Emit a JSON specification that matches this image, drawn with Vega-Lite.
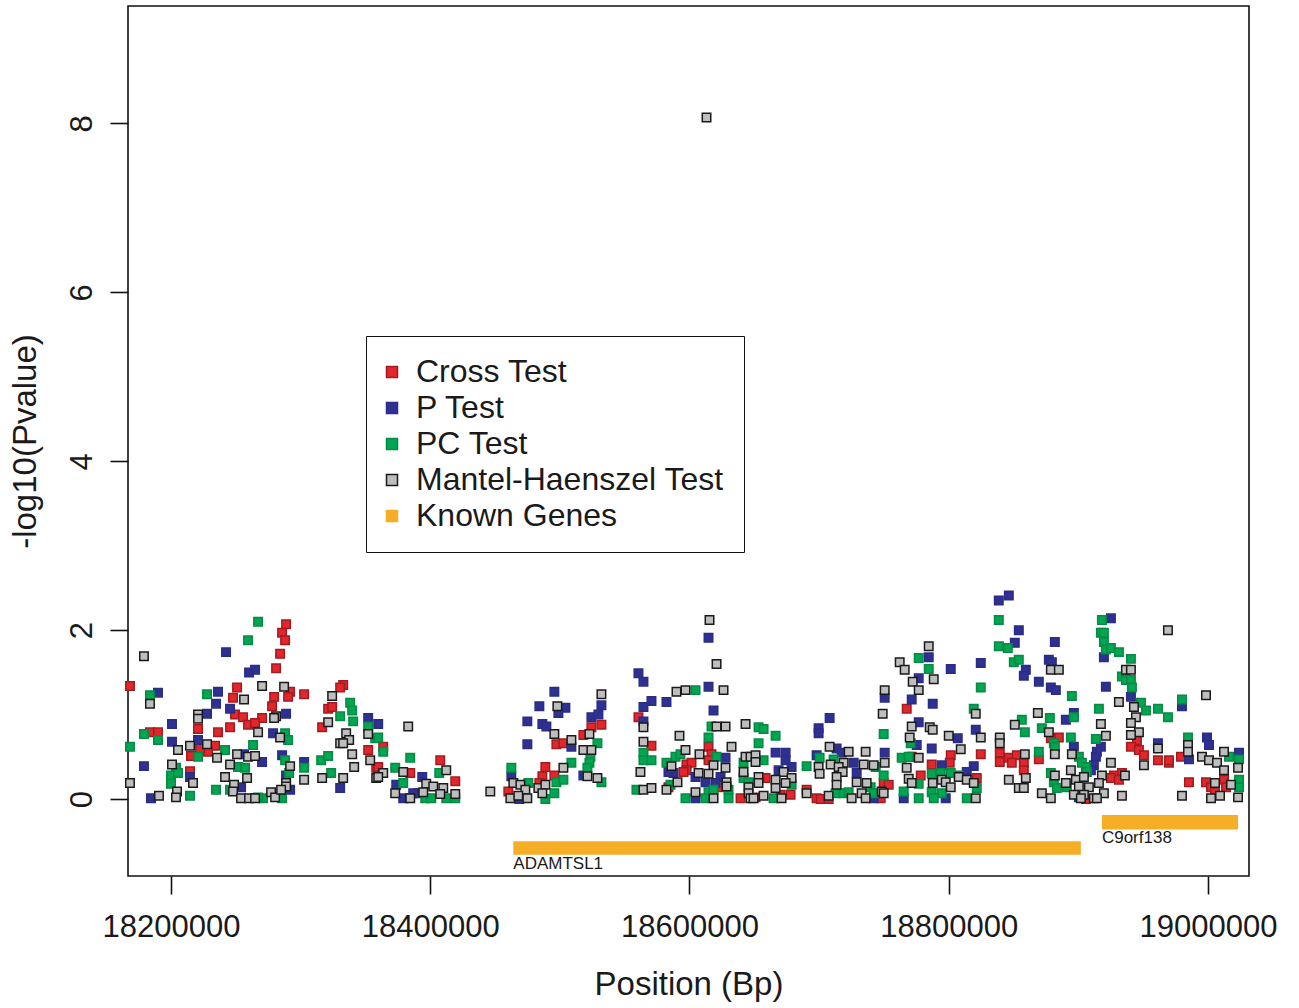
{
"$schema":"https://vega.github.io/schema/vega-lite/v6.json",
"width":1121,"height":870,
"autosize":{"type":"none"},
"padding":{"left":128,"top":6,"right":50,"bottom":132},
"background":"white",
"config":{"view":{"stroke":"#111111","strokeWidth":1.6},"font":"Liberation Sans",
"axis":{"labelFont":"Liberation Sans","titleFont":"Liberation Sans","labelColor":"#1a1a1a","titleColor":"#1a1a1a","titleFontWeight":"normal","tickColor":"#111111","tickWidth":1.6,"tickSize":18,"domain":false,"grid":false,"labelFlush":false,"labelOverlap":false}},
"datasets":{
"genes":[
{"gene":"ADAMTSL1","start":18464090,"end":18901930,"lo":-0.66,"hi":-0.50,"test":"Known Genes"},
{"gene":"C9orf138","start":18918150,"end":19023170,"lo":-0.36,"hi":-0.19,"test":"Known Genes"}],
"snps":[
{"pos":18168340,"logp":1.34,"test":"Cross Test"},{"pos":18250970,"logp":1.32,"test":"Cross Test"},{"pos":18247880,"logp":1.20,"test":"Cross Test"},{"pos":18249420,"logp":1.00,"test":"Cross Test"},{"pos":18255600,"logp":0.97,"test":"Cross Test"},{"pos":18259460,"logp":0.88,"test":"Cross Test"},{"pos":18220850,"logp":0.83,"test":"Cross Test"},{"pos":18236290,"logp":0.79,"test":"Cross Test"},{"pos":18245560,"logp":0.85,"test":"Cross Test"},{"pos":18183780,"logp":0.79,"test":"Cross Test"},{"pos":18189960,"logp":0.79,"test":"Cross Test"},{"pos":18233980,"logp":0.63,"test":"Cross Test"},{"pos":18228570,"logp":0.56,"test":"Cross Test"},{"pos":18222390,"logp":0.60,"test":"Cross Test"},{"pos":18215440,"logp":0.51,"test":"Cross Test"},{"pos":18214670,"logp":0.33,"test":"Cross Test"},
{"pos":18288800,"logp":2.07,"test":"Cross Test"},{"pos":18285710,"logp":1.97,"test":"Cross Test"},{"pos":18288030,"logp":1.88,"test":"Cross Test"},{"pos":18284170,"logp":1.72,"test":"Cross Test"},{"pos":18281080,"logp":1.55,"test":"Cross Test"},{"pos":18291890,"logp":1.27,"test":"Cross Test"},{"pos":18290350,"logp":1.21,"test":"Cross Test"},{"pos":18279540,"logp":1.21,"test":"Cross Test"},{"pos":18302700,"logp":1.24,"test":"Cross Test"},{"pos":18332820,"logp":1.35,"test":"Cross Test"},{"pos":18330500,"logp":1.32,"test":"Cross Test"},{"pos":18277990,"logp":1.10,"test":"Cross Test"},{"pos":18321240,"logp":1.07,"test":"Cross Test"},{"pos":18324320,"logp":1.09,"test":"Cross Test"},{"pos":18270270,"logp":0.96,"test":"Cross Test"},{"pos":18264860,"logp":0.90,"test":"Cross Test"},{"pos":18316600,"logp":0.85,"test":"Cross Test"},{"pos":18352120,"logp":0.58,"test":"Cross Test"},{"pos":18358300,"logp":0.37,"test":"Cross Test"},
{"pos":18363710,"logp":0.62,"test":"Cross Test"},{"pos":18407720,"logp":0.46,"test":"Cross Test"},{"pos":18359850,"logp":0.38,"test":"Cross Test"},{"pos":18384560,"logp":0.31,"test":"Cross Test"},{"pos":18419300,"logp":0.21,"test":"Cross Test"},
{"pos":18524320,"logp":0.85,"test":"Cross Test"},{"pos":18532050,"logp":0.88,"test":"Cross Test"},{"pos":18518150,"logp":0.76,"test":"Cross Test"},{"pos":18497300,"logp":0.65,"test":"Cross Test"},{"pos":18502700,"logp":0.66,"test":"Cross Test"},{"pos":18488800,"logp":0.38,"test":"Cross Test"},{"pos":18486490,"logp":0.27,"test":"Cross Test"},{"pos":18495750,"logp":0.28,"test":"Cross Test"},{"pos":18484170,"logp":0.19,"test":"Cross Test"},{"pos":18460230,"logp":0.09,"test":"Cross Test"},
{"pos":18560620,"logp":0.97,"test":"Cross Test"},{"pos":18570660,"logp":0.63,"test":"Cross Test"},{"pos":18614670,"logp":0.62,"test":"Cross Test"},{"pos":18616990,"logp":0.53,"test":"Cross Test"},{"pos":18597680,"logp":0.41,"test":"Cross Test"},{"pos":18601540,"logp":0.43,"test":"Cross Test"},{"pos":18614670,"logp":0.46,"test":"Cross Test"},{"pos":18597680,"logp":0.34,"test":"Cross Test"},{"pos":18595370,"logp":0.32,"test":"Cross Test"},{"pos":18583780,"logp":0.14,"test":"Cross Test"},{"pos":18622390,"logp":0.14,"test":"Cross Test"},{"pos":18639380,"logp":0.01,"test":"Cross Test"},
{"pos":18658690,"logp":0.25,"test":"Cross Test"},{"pos":18690350,"logp":0.11,"test":"Cross Test"},{"pos":18698070,"logp":0.01,"test":"Cross Test"},{"pos":18701160,"logp":0.0,"test":"Cross Test"},{"pos":18670270,"logp":0.05,"test":"Cross Test"},{"pos":18677990,"logp":0.05,"test":"Cross Test"},{"pos":18650960,"logp":0.02,"test":"Cross Test"},{"pos":18707340,"logp":0.0,"test":"Cross Test"},
{"pos":18767570,"logp":1.07,"test":"Cross Test"},{"pos":18824710,"logp":0.53,"test":"Cross Test"},{"pos":18839380,"logp":0.55,"test":"Cross Test"},{"pos":18839380,"logp":0.44,"test":"Cross Test"},{"pos":18801540,"logp":0.52,"test":"Cross Test"},{"pos":18771430,"logp":0.50,"test":"Cross Test"},{"pos":18786870,"logp":0.41,"test":"Cross Test"},{"pos":18800770,"logp":0.43,"test":"Cross Test"},{"pos":18778380,"logp":0.28,"test":"Cross Test"},{"pos":18821620,"logp":0.25,"test":"Cross Test"},{"pos":18749810,"logp":0.19,"test":"Cross Test"},{"pos":18753670,"logp":0.17,"test":"Cross Test"},{"pos":18747490,"logp":0.01,"test":"Cross Test"},
{"pos":18884940,"logp":0.73,"test":"Cross Test"},{"pos":18878760,"logp":0.72,"test":"Cross Test"},{"pos":18869500,"logp":0.47,"test":"Cross Test"},{"pos":18846330,"logp":0.49,"test":"Cross Test"},{"pos":18852510,"logp":0.52,"test":"Cross Test"},{"pos":18848650,"logp":0.43,"test":"Cross Test"},{"pos":18857910,"logp":0.43,"test":"Cross Test"},{"pos":18857910,"logp":0.34,"test":"Cross Test"},{"pos":18927410,"logp":0.28,"test":"Cross Test"},{"pos":18933590,"logp":0.31,"test":"Cross Test"},{"pos":18925100,"logp":0.25,"test":"Cross Test"},{"pos":18931270,"logp":0.23,"test":"Cross Test"},{"pos":18905790,"logp":0.0,"test":"Cross Test"},
{"pos":18945170,"logp":0.70,"test":"Cross Test"},{"pos":18940540,"logp":0.62,"test":"Cross Test"},{"pos":18946720,"logp":0.58,"test":"Cross Test"},{"pos":18950580,"logp":0.52,"test":"Cross Test"},{"pos":18979150,"logp":0.50,"test":"Cross Test"},{"pos":18961390,"logp":0.46,"test":"Cross Test"},{"pos":18969880,"logp":0.43,"test":"Cross Test"},{"pos":18969880,"logp":0.46,"test":"Cross Test"},{"pos":18985330,"logp":0.20,"test":"Cross Test"},{"pos":18998460,"logp":0.20,"test":"Cross Test"},{"pos":19002320,"logp":0.14,"test":"Cross Test"},{"pos":19012350,"logp":0.23,"test":"Cross Test"},{"pos":19013900,"logp":0.14,"test":"Cross Test"},{"pos":19005400,"logp":0.08,"test":"Cross Test"},

{"pos":18242470,"logp":1.74,"test":"P Test"},{"pos":18260230,"logp":1.50,"test":"P Test"},{"pos":18189960,"logp":1.26,"test":"P Test"},{"pos":18236290,"logp":1.27,"test":"P Test"},{"pos":18234750,"logp":1.13,"test":"P Test"},{"pos":18245560,"logp":1.07,"test":"P Test"},{"pos":18227800,"logp":1.01,"test":"P Test"},{"pos":18200770,"logp":0.89,"test":"P Test"},{"pos":18200770,"logp":0.68,"test":"P Test"},{"pos":18220850,"logp":0.70,"test":"P Test"},{"pos":18256370,"logp":0.53,"test":"P Test"},{"pos":18179150,"logp":0.39,"test":"P Test"},{"pos":18214670,"logp":0.26,"test":"P Test"},{"pos":18254050,"logp":0.14,"test":"P Test"},{"pos":18184560,"logp":0.01,"test":"P Test"},
{"pos":18264860,"logp":1.53,"test":"P Test"},{"pos":18288800,"logp":1.01,"test":"P Test"},{"pos":18352120,"logp":0.96,"test":"P Test"},{"pos":18278760,"logp":0.78,"test":"P Test"},{"pos":18270270,"logp":0.44,"test":"P Test"},{"pos":18285710,"logp":0.52,"test":"P Test"},{"pos":18302700,"logp":0.44,"test":"P Test"},{"pos":18288800,"logp":0.28,"test":"P Test"},{"pos":18330500,"logp":0.13,"test":"P Test"},{"pos":18291890,"logp":0.11,"test":"P Test"},
{"pos":18359850,"logp":0.89,"test":"P Test"},{"pos":18393820,"logp":0.26,"test":"P Test"},{"pos":18373750,"logp":0.17,"test":"P Test"},{"pos":18379150,"logp":0.01,"test":"P Test"},{"pos":18390730,"logp":0.07,"test":"P Test"},{"pos":18386870,"logp":0.07,"test":"P Test"},
{"pos":18495750,"logp":1.27,"test":"P Test"},{"pos":18484170,"logp":1.10,"test":"P Test"},{"pos":18504250,"logp":1.08,"test":"P Test"},{"pos":18498840,"logp":1.02,"test":"P Test"},{"pos":18532050,"logp":1.11,"test":"P Test"},{"pos":18524320,"logp":0.97,"test":"P Test"},{"pos":18529730,"logp":1.00,"test":"P Test"},{"pos":18474900,"logp":0.92,"test":"P Test"},{"pos":18486490,"logp":0.89,"test":"P Test"},{"pos":18489580,"logp":0.86,"test":"P Test"},{"pos":18508880,"logp":0.62,"test":"P Test"},{"pos":18474900,"logp":0.65,"test":"P Test"},{"pos":18462550,"logp":0.27,"test":"P Test"},{"pos":18518150,"logp":0.28,"test":"P Test"},{"pos":18468730,"logp":0.0,"test":"P Test"},
{"pos":18614670,"logp":1.91,"test":"P Test"},{"pos":18560620,"logp":1.49,"test":"P Test"},{"pos":18564480,"logp":1.39,"test":"P Test"},{"pos":18614670,"logp":1.33,"test":"P Test"},{"pos":18570660,"logp":1.16,"test":"P Test"},{"pos":18564480,"logp":1.09,"test":"P Test"},{"pos":18582240,"logp":1.15,"test":"P Test"},{"pos":18618530,"logp":1.05,"test":"P Test"},{"pos":18564480,"logp":0.92,"test":"P Test"},{"pos":18627800,"logp":0.49,"test":"P Test"},{"pos":18587640,"logp":0.31,"test":"P Test"},{"pos":18583780,"logp":0.32,"test":"P Test"},{"pos":18604630,"logp":0.26,"test":"P Test"},{"pos":18623940,"logp":0.26,"test":"P Test"},{"pos":18612350,"logp":0.20,"test":"P Test"},{"pos":18620080,"logp":0.19,"test":"P Test"},{"pos":18604630,"logp":0.01,"test":"P Test"},
{"pos":18708110,"logp":0.96,"test":"P Test"},{"pos":18699610,"logp":0.84,"test":"P Test"},{"pos":18699610,"logp":0.78,"test":"P Test"},{"pos":18713510,"logp":0.60,"test":"P Test"},{"pos":18717370,"logp":0.55,"test":"P Test"},{"pos":18666410,"logp":0.55,"test":"P Test"},{"pos":18674130,"logp":0.55,"test":"P Test"},{"pos":18674130,"logp":0.46,"test":"P Test"},{"pos":18698070,"logp":0.52,"test":"P Test"},{"pos":18726640,"logp":0.43,"test":"P Test"},{"pos":18728960,"logp":0.31,"test":"P Test"},{"pos":18678760,"logp":0.38,"test":"P Test"},{"pos":18668730,"logp":0.34,"test":"P Test"},{"pos":18742080,"logp":0.01,"test":"P Test"},
{"pos":18838610,"logp":2.35,"test":"P Test"},{"pos":18846330,"logp":2.41,"test":"P Test"},{"pos":18784560,"logp":1.68,"test":"P Test"},{"pos":18801540,"logp":1.54,"test":"P Test"},{"pos":18824710,"logp":1.61,"test":"P Test"},{"pos":18776830,"logp":1.43,"test":"P Test"},{"pos":18750580,"logp":1.20,"test":"P Test"},{"pos":18771430,"logp":1.18,"test":"P Test"},{"pos":18787640,"logp":1.13,"test":"P Test"},{"pos":18776830,"logp":0.91,"test":"P Test"},{"pos":18820850,"logp":0.82,"test":"P Test"},{"pos":18806950,"logp":0.72,"test":"P Test"},{"pos":18775290,"logp":0.64,"test":"P Test"},{"pos":18786870,"logp":0.60,"test":"P Test"},{"pos":18750580,"logp":0.55,"test":"P Test"},{"pos":18794590,"logp":0.40,"test":"P Test"},{"pos":18819300,"logp":0.39,"test":"P Test"},{"pos":18813900,"logp":0.32,"test":"P Test"},{"pos":18765250,"logp":0.01,"test":"P Test"},{"pos":18797680,"logp":0.01,"test":"P Test"},
{"pos":18925100,"logp":2.14,"test":"P Test"},{"pos":18854050,"logp":2.00,"test":"P Test"},{"pos":18881850,"logp":1.86,"test":"P Test"},{"pos":18850960,"logp":1.85,"test":"P Test"},{"pos":18919690,"logp":1.68,"test":"P Test"},{"pos":18877220,"logp":1.65,"test":"P Test"},{"pos":18879540,"logp":1.62,"test":"P Test"},{"pos":18859460,"logp":1.53,"test":"P Test"},{"pos":18857910,"logp":1.46,"test":"P Test"},{"pos":18869500,"logp":1.39,"test":"P Test"},{"pos":18878760,"logp":1.32,"test":"P Test"},{"pos":18882620,"logp":1.29,"test":"P Test"},{"pos":18921230,"logp":1.33,"test":"P Test"},{"pos":18896520,"logp":1.02,"test":"P Test"},{"pos":18890350,"logp":0.94,"test":"P Test"},{"pos":18917370,"logp":0.62,"test":"P Test"},{"pos":18914290,"logp":0.56,"test":"P Test"},{"pos":18913510,"logp":0.50,"test":"P Test"},{"pos":18896520,"logp":0.62,"test":"P Test"},{"pos":18911970,"logp":0.40,"test":"P Test"},{"pos":18909650,"logp":0.34,"test":"P Test"},{"pos":18900390,"logp":0.02,"test":"P Test"},
{"pos":18940540,"logp":1.21,"test":"P Test"},{"pos":18979920,"logp":1.10,"test":"P Test"},{"pos":18999230,"logp":0.73,"test":"P Test"},{"pos":19000770,"logp":0.64,"test":"P Test"},{"pos":18961390,"logp":0.66,"test":"P Test"},{"pos":18985330,"logp":0.47,"test":"P Test"},{"pos":19023940,"logp":0.55,"test":"P Test"},

{"pos":18259460,"logp":1.88,"test":"PC Test"},{"pos":18183780,"logp":1.23,"test":"PC Test"},{"pos":18227800,"logp":1.24,"test":"PC Test"},{"pos":18179150,"logp":0.77,"test":"PC Test"},{"pos":18189960,"logp":0.70,"test":"PC Test"},{"pos":18241700,"logp":0.58,"test":"PC Test"},{"pos":18220850,"logp":0.50,"test":"PC Test"},{"pos":18168340,"logp":0.62,"test":"PC Test"},{"pos":18203860,"logp":0.37,"test":"PC Test"},{"pos":18251740,"logp":0.38,"test":"PC Test"},{"pos":18257140,"logp":0.37,"test":"PC Test"},{"pos":18200000,"logp":0.28,"test":"PC Test"},{"pos":18205410,"logp":0.31,"test":"PC Test"},{"pos":18200000,"logp":0.18,"test":"PC Test"},{"pos":18234750,"logp":0.11,"test":"PC Test"},{"pos":18245560,"logp":0.11,"test":"PC Test"},{"pos":18214670,"logp":0.04,"test":"PC Test"},
{"pos":18267180,"logp":2.10,"test":"PC Test"},{"pos":18338220,"logp":1.14,"test":"PC Test"},{"pos":18339770,"logp":1.05,"test":"PC Test"},{"pos":18330500,"logp":0.98,"test":"PC Test"},{"pos":18340540,"logp":0.92,"test":"PC Test"},{"pos":18352120,"logp":0.86,"test":"PC Test"},{"pos":18288030,"logp":0.78,"test":"PC Test"},{"pos":18290350,"logp":0.70,"test":"PC Test"},{"pos":18357530,"logp":0.72,"test":"PC Test"},{"pos":18263320,"logp":0.64,"test":"PC Test"},{"pos":18288030,"logp":0.46,"test":"PC Test"},{"pos":18302700,"logp":0.37,"test":"PC Test"},{"pos":18315830,"logp":0.46,"test":"PC Test"},{"pos":18321240,"logp":0.51,"test":"PC Test"},{"pos":18291120,"logp":0.31,"test":"PC Test"},{"pos":18323550,"logp":0.31,"test":"PC Test"},{"pos":18271040,"logp":0.01,"test":"PC Test"},{"pos":18267180,"logp":0.02,"test":"PC Test"},{"pos":18285710,"logp":0.01,"test":"PC Test"},
{"pos":18359850,"logp":0.73,"test":"PC Test"},{"pos":18363710,"logp":0.56,"test":"PC Test"},{"pos":18384560,"logp":0.49,"test":"PC Test"},{"pos":18372970,"logp":0.37,"test":"PC Test"},{"pos":18406950,"logp":0.31,"test":"PC Test"},{"pos":18379150,"logp":0.19,"test":"PC Test"},{"pos":18396140,"logp":0.01,"test":"PC Test"},{"pos":18400770,"logp":0.01,"test":"PC Test"},{"pos":18412360,"logp":0.01,"test":"PC Test"},{"pos":18419300,"logp":0.01,"test":"PC Test"},
{"pos":18528960,"logp":0.66,"test":"PC Test"},{"pos":18523550,"logp":0.50,"test":"PC Test"},{"pos":18508880,"logp":0.43,"test":"PC Test"},{"pos":18522780,"logp":0.43,"test":"PC Test"},{"pos":18521240,"logp":0.37,"test":"PC Test"},{"pos":18462550,"logp":0.37,"test":"PC Test"},{"pos":18532050,"logp":0.20,"test":"PC Test"},{"pos":18497300,"logp":0.20,"test":"PC Test"},{"pos":18502700,"logp":0.23,"test":"PC Test"},{"pos":18475680,"logp":0.19,"test":"PC Test"},{"pos":18495750,"logp":0.07,"test":"PC Test"},{"pos":18488800,"logp":0.0,"test":"PC Test"},
{"pos":18604630,"logp":1.29,"test":"PC Test"},{"pos":18616990,"logp":0.86,"test":"PC Test"},{"pos":18614670,"logp":0.73,"test":"PC Test"},{"pos":18564480,"logp":0.55,"test":"PC Test"},{"pos":18564480,"logp":0.46,"test":"PC Test"},{"pos":18570660,"logp":0.46,"test":"PC Test"},{"pos":18589190,"logp":0.50,"test":"PC Test"},{"pos":18593050,"logp":0.53,"test":"PC Test"},{"pos":18620850,"logp":0.50,"test":"PC Test"},{"pos":18582240,"logp":0.43,"test":"PC Test"},{"pos":18641700,"logp":0.43,"test":"PC Test"},{"pos":18641700,"logp":0.25,"test":"PC Test"},{"pos":18645560,"logp":0.20,"test":"PC Test"},{"pos":18585330,"logp":0.17,"test":"PC Test"},{"pos":18559070,"logp":0.11,"test":"PC Test"},{"pos":18614670,"logp":0.08,"test":"PC Test"},{"pos":18618530,"logp":0.11,"test":"PC Test"},{"pos":18630120,"logp":0.11,"test":"PC Test"},{"pos":18596910,"logp":0.01,"test":"PC Test"},{"pos":18612350,"logp":0.01,"test":"PC Test"},{"pos":18630120,"logp":0.01,"test":"PC Test"},
{"pos":18653280,"logp":0.85,"test":"PC Test"},{"pos":18657140,"logp":0.83,"test":"PC Test"},{"pos":18666410,"logp":0.75,"test":"PC Test"},{"pos":18653280,"logp":0.66,"test":"PC Test"},{"pos":18657140,"logp":0.46,"test":"PC Test"},{"pos":18700390,"logp":0.49,"test":"PC Test"},{"pos":18711200,"logp":0.47,"test":"PC Test"},{"pos":18690350,"logp":0.39,"test":"PC Test"},{"pos":18743630,"logp":0.38,"test":"PC Test"},{"pos":18678760,"logp":0.17,"test":"PC Test"},{"pos":18739770,"logp":0.14,"test":"PC Test"},{"pos":18742080,"logp":0.07,"test":"PC Test"},{"pos":18712740,"logp":0.07,"test":"PC Test"},{"pos":18718920,"logp":0.07,"test":"PC Test"},{"pos":18722780,"logp":0.08,"test":"PC Test"},{"pos":18664860,"logp":0.01,"test":"PC Test"},
{"pos":18838610,"logp":2.12,"test":"PC Test"},{"pos":18838610,"logp":1.81,"test":"PC Test"},{"pos":18776830,"logp":1.67,"test":"PC Test"},{"pos":18784560,"logp":1.54,"test":"PC Test"},{"pos":18824710,"logp":1.32,"test":"PC Test"},{"pos":18819300,"logp":1.07,"test":"PC Test"},{"pos":18749810,"logp":0.77,"test":"PC Test"},{"pos":18770660,"logp":0.66,"test":"PC Test"},{"pos":18763710,"logp":0.49,"test":"PC Test"},{"pos":18769110,"logp":0.50,"test":"PC Test"},{"pos":18749810,"logp":0.28,"test":"PC Test"},{"pos":18786870,"logp":0.30,"test":"PC Test"},{"pos":18793820,"logp":0.31,"test":"PC Test"},{"pos":18801540,"logp":0.31,"test":"PC Test"},{"pos":18807720,"logp":0.28,"test":"PC Test"},{"pos":18765250,"logp":0.09,"test":"PC Test"},{"pos":18776830,"logp":0.18,"test":"PC Test"},{"pos":18786870,"logp":0.08,"test":"PC Test"},{"pos":18794590,"logp":0.07,"test":"PC Test"},{"pos":18776830,"logp":0.01,"test":"PC Test"},{"pos":18788420,"logp":0.01,"test":"PC Test"},{"pos":18813900,"logp":0.01,"test":"PC Test"},{"pos":18821620,"logp":0.13,"test":"PC Test"},
{"pos":18918150,"logp":2.12,"test":"PC Test"},{"pos":18917370,"logp":1.97,"test":"PC Test"},{"pos":18919690,"logp":1.97,"test":"PC Test"},{"pos":18845560,"logp":1.79,"test":"PC Test"},{"pos":18919690,"logp":1.86,"test":"PC Test"},{"pos":18921230,"logp":1.77,"test":"PC Test"},{"pos":18925100,"logp":1.79,"test":"PC Test"},{"pos":18931270,"logp":1.74,"test":"PC Test"},{"pos":18850190,"logp":1.62,"test":"PC Test"},{"pos":18854050,"logp":1.65,"test":"PC Test"},{"pos":18933590,"logp":1.45,"test":"PC Test"},{"pos":18936680,"logp":1.41,"test":"PC Test"},{"pos":18894980,"logp":1.22,"test":"PC Test"},{"pos":18915830,"logp":1.07,"test":"PC Test"},{"pos":18896520,"logp":0.97,"test":"PC Test"},{"pos":18877990,"logp":0.96,"test":"PC Test"},{"pos":18856370,"logp":0.94,"test":"PC Test"},{"pos":18858690,"logp":0.79,"test":"PC Test"},{"pos":18871810,"logp":0.84,"test":"PC Test"},{"pos":18894210,"logp":0.73,"test":"PC Test"},{"pos":18881080,"logp":0.66,"test":"PC Test"},{"pos":18881850,"logp":0.62,"test":"PC Test"},{"pos":18913510,"logp":0.71,"test":"PC Test"},{"pos":18869500,"logp":0.56,"test":"PC Test"},{"pos":18900390,"logp":0.50,"test":"PC Test"},{"pos":18902700,"logp":0.43,"test":"PC Test"},{"pos":18905790,"logp":0.38,"test":"PC Test"},{"pos":18906560,"logp":0.32,"test":"PC Test"},{"pos":18878760,"logp":0.31,"test":"PC Test"},{"pos":18881080,"logp":0.20,"test":"PC Test"},{"pos":18883400,"logp":0.13,"test":"PC Test"},{"pos":18891120,"logp":0.14,"test":"PC Test"},
{"pos":18940540,"logp":1.66,"test":"PC Test"},{"pos":18940540,"logp":1.41,"test":"PC Test"},{"pos":18941310,"logp":1.32,"test":"PC Test"},{"pos":18979920,"logp":1.18,"test":"PC Test"},{"pos":18948260,"logp":1.14,"test":"PC Test"},{"pos":18952120,"logp":1.05,"test":"PC Test"},{"pos":18961390,"logp":1.07,"test":"PC Test"},{"pos":18969110,"logp":0.97,"test":"PC Test"},{"pos":18984560,"logp":0.73,"test":"PC Test"},{"pos":19016220,"logp":0.50,"test":"PC Test"},{"pos":19023940,"logp":0.47,"test":"PC Test"},{"pos":19023940,"logp":0.23,"test":"PC Test"},{"pos":19023940,"logp":0.14,"test":"PC Test"},

{"pos":18613130,"logp":8.07,"test":"Mantel-Haenszel Test"},
{"pos":18179150,"logp":1.69,"test":"Mantel-Haenszel Test"},{"pos":18183780,"logp":1.13,"test":"Mantel-Haenszel Test"},{"pos":18256370,"logp":1.18,"test":"Mantel-Haenszel Test"},{"pos":18220850,"logp":1.00,"test":"Mantel-Haenszel Test"},{"pos":18220850,"logp":0.95,"test":"Mantel-Haenszel Test"},{"pos":18205410,"logp":0.58,"test":"Mantel-Haenszel Test"},{"pos":18214670,"logp":0.63,"test":"Mantel-Haenszel Test"},{"pos":18227800,"logp":0.65,"test":"Mantel-Haenszel Test"},{"pos":18235520,"logp":0.49,"test":"Mantel-Haenszel Test"},{"pos":18250970,"logp":0.53,"test":"Mantel-Haenszel Test"},{"pos":18259460,"logp":0.50,"test":"Mantel-Haenszel Test"},{"pos":18200770,"logp":0.41,"test":"Mantel-Haenszel Test"},{"pos":18245560,"logp":0.41,"test":"Mantel-Haenszel Test"},{"pos":18216990,"logp":0.19,"test":"Mantel-Haenszel Test"},{"pos":18168340,"logp":0.19,"test":"Mantel-Haenszel Test"},{"pos":18241700,"logp":0.26,"test":"Mantel-Haenszel Test"},{"pos":18248650,"logp":0.17,"test":"Mantel-Haenszel Test"},{"pos":18258690,"logp":0.25,"test":"Mantel-Haenszel Test"},{"pos":18247880,"logp":0.09,"test":"Mantel-Haenszel Test"},{"pos":18204630,"logp":0.09,"test":"Mantel-Haenszel Test"},{"pos":18203860,"logp":0.02,"test":"Mantel-Haenszel Test"},{"pos":18190730,"logp":0.04,"test":"Mantel-Haenszel Test"},{"pos":18254050,"logp":0.01,"test":"Mantel-Haenszel Test"},{"pos":18260230,"logp":0.01,"test":"Mantel-Haenszel Test"},
{"pos":18270270,"logp":1.34,"test":"Mantel-Haenszel Test"},{"pos":18287260,"logp":1.33,"test":"Mantel-Haenszel Test"},{"pos":18324320,"logp":1.22,"test":"Mantel-Haenszel Test"},{"pos":18281080,"logp":0.98,"test":"Mantel-Haenszel Test"},{"pos":18279540,"logp":0.96,"test":"Mantel-Haenszel Test"},{"pos":18321240,"logp":0.91,"test":"Mantel-Haenszel Test"},{"pos":18267180,"logp":0.79,"test":"Mantel-Haenszel Test"},{"pos":18284170,"logp":0.73,"test":"Mantel-Haenszel Test"},{"pos":18335140,"logp":0.78,"test":"Mantel-Haenszel Test"},{"pos":18337450,"logp":0.70,"test":"Mantel-Haenszel Test"},{"pos":18330500,"logp":0.66,"test":"Mantel-Haenszel Test"},{"pos":18332820,"logp":0.66,"test":"Mantel-Haenszel Test"},{"pos":18352120,"logp":0.77,"test":"Mantel-Haenszel Test"},{"pos":18339770,"logp":0.53,"test":"Mantel-Haenszel Test"},{"pos":18264860,"logp":0.51,"test":"Mantel-Haenszel Test"},{"pos":18353670,"logp":0.46,"test":"Mantel-Haenszel Test"},{"pos":18291890,"logp":0.39,"test":"Mantel-Haenszel Test"},{"pos":18341310,"logp":0.38,"test":"Mantel-Haenszel Test"},{"pos":18302700,"logp":0.23,"test":"Mantel-Haenszel Test"},{"pos":18316600,"logp":0.25,"test":"Mantel-Haenszel Test"},{"pos":18332820,"logp":0.25,"test":"Mantel-Haenszel Test"},{"pos":18358300,"logp":0.25,"test":"Mantel-Haenszel Test"},{"pos":18288800,"logp":0.19,"test":"Mantel-Haenszel Test"},{"pos":18288800,"logp":0.15,"test":"Mantel-Haenszel Test"},{"pos":18277220,"logp":0.08,"test":"Mantel-Haenszel Test"},{"pos":18280310,"logp":0.02,"test":"Mantel-Haenszel Test"},{"pos":18284940,"logp":0.11,"test":"Mantel-Haenszel Test"},{"pos":18264860,"logp":0.01,"test":"Mantel-Haenszel Test"},
{"pos":18383010,"logp":0.86,"test":"Mantel-Haenszel Test"},{"pos":18363710,"logp":0.31,"test":"Mantel-Haenszel Test"},{"pos":18379150,"logp":0.32,"test":"Mantel-Haenszel Test"},{"pos":18412360,"logp":0.34,"test":"Mantel-Haenszel Test"},{"pos":18372970,"logp":0.07,"test":"Mantel-Haenszel Test"},{"pos":18396910,"logp":0.18,"test":"Mantel-Haenszel Test"},{"pos":18402320,"logp":0.15,"test":"Mantel-Haenszel Test"},{"pos":18410040,"logp":0.13,"test":"Mantel-Haenszel Test"},{"pos":18394590,"logp":0.08,"test":"Mantel-Haenszel Test"},{"pos":18407720,"logp":0.06,"test":"Mantel-Haenszel Test"},{"pos":18419300,"logp":0.06,"test":"Mantel-Haenszel Test"},{"pos":18384560,"logp":0.01,"test":"Mantel-Haenszel Test"},{"pos":18446330,"logp":0.09,"test":"Mantel-Haenszel Test"},{"pos":18359850,"logp":0.26,"test":"Mantel-Haenszel Test"},
{"pos":18498070,"logp":1.10,"test":"Mantel-Haenszel Test"},{"pos":18532050,"logp":1.24,"test":"Mantel-Haenszel Test"},{"pos":18495750,"logp":0.77,"test":"Mantel-Haenszel Test"},{"pos":18522780,"logp":0.77,"test":"Mantel-Haenszel Test"},{"pos":18508880,"logp":0.70,"test":"Mantel-Haenszel Test"},{"pos":18518150,"logp":0.58,"test":"Mantel-Haenszel Test"},{"pos":18524320,"logp":0.58,"test":"Mantel-Haenszel Test"},{"pos":18502700,"logp":0.37,"test":"Mantel-Haenszel Test"},{"pos":18521240,"logp":0.27,"test":"Mantel-Haenszel Test"},{"pos":18528960,"logp":0.25,"test":"Mantel-Haenszel Test"},{"pos":18464090,"logp":0.19,"test":"Mantel-Haenszel Test"},{"pos":18469500,"logp":0.17,"test":"Mantel-Haenszel Test"},{"pos":18473360,"logp":0.11,"test":"Mantel-Haenszel Test"},{"pos":18483400,"logp":0.13,"test":"Mantel-Haenszel Test"},{"pos":18488800,"logp":0.17,"test":"Mantel-Haenszel Test"},{"pos":18486490,"logp":0.07,"test":"Mantel-Haenszel Test"},{"pos":18461780,"logp":0.01,"test":"Mantel-Haenszel Test"},{"pos":18467950,"logp":0.04,"test":"Mantel-Haenszel Test"},{"pos":18474900,"logp":0.01,"test":"Mantel-Haenszel Test"},
{"pos":18615440,"logp":2.12,"test":"Mantel-Haenszel Test"},{"pos":18620850,"logp":1.60,"test":"Mantel-Haenszel Test"},{"pos":18589960,"logp":1.27,"test":"Mantel-Haenszel Test"},{"pos":18596910,"logp":1.29,"test":"Mantel-Haenszel Test"},{"pos":18626250,"logp":1.29,"test":"Mantel-Haenszel Test"},{"pos":18620850,"logp":0.86,"test":"Mantel-Haenszel Test"},{"pos":18627800,"logp":0.86,"test":"Mantel-Haenszel Test"},{"pos":18643240,"logp":0.89,"test":"Mantel-Haenszel Test"},{"pos":18564480,"logp":0.85,"test":"Mantel-Haenszel Test"},{"pos":18592280,"logp":0.75,"test":"Mantel-Haenszel Test"},{"pos":18564480,"logp":0.68,"test":"Mantel-Haenszel Test"},{"pos":18632430,"logp":0.62,"test":"Mantel-Haenszel Test"},{"pos":18596910,"logp":0.58,"test":"Mantel-Haenszel Test"},{"pos":18607720,"logp":0.53,"test":"Mantel-Haenszel Test"},{"pos":18643240,"logp":0.50,"test":"Mantel-Haenszel Test"},{"pos":18647100,"logp":0.50,"test":"Mantel-Haenszel Test"},{"pos":18586100,"logp":0.39,"test":"Mantel-Haenszel Test"},{"pos":18618530,"logp":0.40,"test":"Mantel-Haenszel Test"},{"pos":18627800,"logp":0.37,"test":"Mantel-Haenszel Test"},{"pos":18606950,"logp":0.31,"test":"Mantel-Haenszel Test"},{"pos":18614670,"logp":0.30,"test":"Mantel-Haenszel Test"},{"pos":18641700,"logp":0.32,"test":"Mantel-Haenszel Test"},{"pos":18562160,"logp":0.32,"test":"Mantel-Haenszel Test"},{"pos":18590730,"logp":0.20,"test":"Mantel-Haenszel Test"},{"pos":18628570,"logp":0.20,"test":"Mantel-Haenszel Test"},{"pos":18628570,"logp":0.15,"test":"Mantel-Haenszel Test"},{"pos":18564480,"logp":0.11,"test":"Mantel-Haenszel Test"},{"pos":18570660,"logp":0.13,"test":"Mantel-Haenszel Test"},{"pos":18582240,"logp":0.11,"test":"Mantel-Haenszel Test"},{"pos":18604630,"logp":0.08,"test":"Mantel-Haenszel Test"},{"pos":18645560,"logp":0.14,"test":"Mantel-Haenszel Test"},{"pos":18645560,"logp":0.07,"test":"Mantel-Haenszel Test"},{"pos":18618530,"logp":0.01,"test":"Mantel-Haenszel Test"},{"pos":18647100,"logp":0.01,"test":"Mantel-Haenszel Test"},
{"pos":18708110,"logp":0.62,"test":"Mantel-Haenszel Test"},{"pos":18722780,"logp":0.56,"test":"Mantel-Haenszel Test"},{"pos":18735910,"logp":0.56,"test":"Mantel-Haenszel Test"},{"pos":18708880,"logp":0.41,"test":"Mantel-Haenszel Test"},{"pos":18718920,"logp":0.43,"test":"Mantel-Haenszel Test"},{"pos":18734360,"logp":0.41,"test":"Mantel-Haenszel Test"},{"pos":18742080,"logp":0.40,"test":"Mantel-Haenszel Test"},{"pos":18715060,"logp":0.38,"test":"Mantel-Haenszel Test"},{"pos":18699610,"logp":0.38,"test":"Mantel-Haenszel Test"},{"pos":18672590,"logp":0.32,"test":"Mantel-Haenszel Test"},{"pos":18700390,"logp":0.30,"test":"Mantel-Haenszel Test"},{"pos":18718150,"logp":0.32,"test":"Mantel-Haenszel Test"},{"pos":18653280,"logp":0.26,"test":"Mantel-Haenszel Test"},{"pos":18666410,"logp":0.23,"test":"Mantel-Haenszel Test"},{"pos":18678760,"logp":0.25,"test":"Mantel-Haenszel Test"},{"pos":18674130,"logp":0.19,"test":"Mantel-Haenszel Test"},{"pos":18653280,"logp":0.19,"test":"Mantel-Haenszel Test"},{"pos":18713510,"logp":0.26,"test":"Mantel-Haenszel Test"},{"pos":18713510,"logp":0.17,"test":"Mantel-Haenszel Test"},{"pos":18728960,"logp":0.20,"test":"Mantel-Haenszel Test"},{"pos":18736680,"logp":0.19,"test":"Mantel-Haenszel Test"},{"pos":18666410,"logp":0.13,"test":"Mantel-Haenszel Test"},{"pos":18690350,"logp":0.07,"test":"Mantel-Haenszel Test"},{"pos":18707340,"logp":0.04,"test":"Mantel-Haenszel Test"},{"pos":18725100,"logp":0.01,"test":"Mantel-Haenszel Test"},{"pos":18732820,"logp":0.07,"test":"Mantel-Haenszel Test"},{"pos":18735910,"logp":0.01,"test":"Mantel-Haenszel Test"},{"pos":18671040,"logp":0.01,"test":"Mantel-Haenszel Test"},{"pos":18657140,"logp":0.04,"test":"Mantel-Haenszel Test"},{"pos":18649420,"logp":0.01,"test":"Mantel-Haenszel Test"},{"pos":18650960,"logp":0.52,"test":"Mantel-Haenszel Test"},{"pos":18650960,"logp":0.44,"test":"Mantel-Haenszel Test"},
{"pos":18784560,"logp":1.81,"test":"Mantel-Haenszel Test"},{"pos":18762160,"logp":1.62,"test":"Mantel-Haenszel Test"},{"pos":18766020,"logp":1.53,"test":"Mantel-Haenszel Test"},{"pos":18772200,"logp":1.39,"test":"Mantel-Haenszel Test"},{"pos":18788420,"logp":1.42,"test":"Mantel-Haenszel Test"},{"pos":18776830,"logp":1.29,"test":"Mantel-Haenszel Test"},{"pos":18750580,"logp":1.29,"test":"Mantel-Haenszel Test"},{"pos":18820850,"logp":1.01,"test":"Mantel-Haenszel Test"},{"pos":18749030,"logp":1.01,"test":"Mantel-Haenszel Test"},{"pos":18771430,"logp":0.86,"test":"Mantel-Haenszel Test"},{"pos":18785330,"logp":0.85,"test":"Mantel-Haenszel Test"},{"pos":18787640,"logp":0.82,"test":"Mantel-Haenszel Test"},{"pos":18769880,"logp":0.73,"test":"Mantel-Haenszel Test"},{"pos":18800000,"logp":0.75,"test":"Mantel-Haenszel Test"},{"pos":18824710,"logp":0.73,"test":"Mantel-Haenszel Test"},{"pos":18839380,"logp":0.73,"test":"Mantel-Haenszel Test"},{"pos":18839380,"logp":0.66,"test":"Mantel-Haenszel Test"},{"pos":18809270,"logp":0.59,"test":"Mantel-Haenszel Test"},{"pos":18776830,"logp":0.49,"test":"Mantel-Haenszel Test"},{"pos":18750580,"logp":0.43,"test":"Mantel-Haenszel Test"},{"pos":18767570,"logp":0.37,"test":"Mantel-Haenszel Test"},{"pos":18807720,"logp":0.26,"test":"Mantel-Haenszel Test"},{"pos":18813900,"logp":0.23,"test":"Mantel-Haenszel Test"},{"pos":18819300,"logp":0.19,"test":"Mantel-Haenszel Test"},{"pos":18787640,"logp":0.19,"test":"Mantel-Haenszel Test"},{"pos":18794590,"logp":0.23,"test":"Mantel-Haenszel Test"},{"pos":18797680,"logp":0.20,"test":"Mantel-Haenszel Test"},{"pos":18801540,"logp":0.14,"test":"Mantel-Haenszel Test"},{"pos":18769110,"logp":0.24,"test":"Mantel-Haenszel Test"},{"pos":18771430,"logp":0.19,"test":"Mantel-Haenszel Test"},{"pos":18748260,"logp":0.09,"test":"Mantel-Haenszel Test"},{"pos":18749810,"logp":0.07,"test":"Mantel-Haenszel Test"},{"pos":18820850,"logp":0.01,"test":"Mantel-Haenszel Test"},
{"pos":18878760,"logp":1.53,"test":"Mantel-Haenszel Test"},{"pos":18884940,"logp":1.53,"test":"Mantel-Haenszel Test"},{"pos":18936680,"logp":1.53,"test":"Mantel-Haenszel Test"},{"pos":18931270,"logp":1.15,"test":"Mantel-Haenszel Test"},{"pos":18868730,"logp":1.02,"test":"Mantel-Haenszel Test"},{"pos":18850960,"logp":0.88,"test":"Mantel-Haenszel Test"},{"pos":18917370,"logp":0.89,"test":"Mantel-Haenszel Test"},{"pos":18877220,"logp":0.79,"test":"Mantel-Haenszel Test"},{"pos":18921230,"logp":0.75,"test":"Mantel-Haenszel Test"},{"pos":18858690,"logp":0.53,"test":"Mantel-Haenszel Test"},{"pos":18881850,"logp":0.53,"test":"Mantel-Haenszel Test"},{"pos":18894980,"logp":0.53,"test":"Mantel-Haenszel Test"},{"pos":18925100,"logp":0.43,"test":"Mantel-Haenszel Test"},{"pos":18894210,"logp":0.34,"test":"Mantel-Haenszel Test"},{"pos":18935910,"logp":0.28,"test":"Mantel-Haenszel Test"},{"pos":18846330,"logp":0.23,"test":"Mantel-Haenszel Test"},{"pos":18859460,"logp":0.25,"test":"Mantel-Haenszel Test"},{"pos":18881850,"logp":0.28,"test":"Mantel-Haenszel Test"},{"pos":18890350,"logp":0.19,"test":"Mantel-Haenszel Test"},{"pos":18898070,"logp":0.23,"test":"Mantel-Haenszel Test"},{"pos":18904250,"logp":0.26,"test":"Mantel-Haenszel Test"},{"pos":18918150,"logp":0.28,"test":"Mantel-Haenszel Test"},{"pos":18915830,"logp":0.19,"test":"Mantel-Haenszel Test"},{"pos":18854050,"logp":0.13,"test":"Mantel-Haenszel Test"},{"pos":18857910,"logp":0.13,"test":"Mantel-Haenszel Test"},{"pos":18900390,"logp":0.15,"test":"Mantel-Haenszel Test"},{"pos":18908110,"logp":0.14,"test":"Mantel-Haenszel Test"},{"pos":18896520,"logp":0.05,"test":"Mantel-Haenszel Test"},{"pos":18904250,"logp":0.05,"test":"Mantel-Haenszel Test"},{"pos":18919690,"logp":0.07,"test":"Mantel-Haenszel Test"},{"pos":18871810,"logp":0.07,"test":"Mantel-Haenszel Test"},{"pos":18878760,"logp":0.01,"test":"Mantel-Haenszel Test"},{"pos":18901930,"logp":0.01,"test":"Mantel-Haenszel Test"},{"pos":18911970,"logp":0.01,"test":"Mantel-Haenszel Test"},{"pos":18914290,"logp":0.01,"test":"Mantel-Haenszel Test"},{"pos":18933590,"logp":0.04,"test":"Mantel-Haenszel Test"},
{"pos":18969110,"logp":2.00,"test":"Mantel-Haenszel Test"},{"pos":18940540,"logp":1.53,"test":"Mantel-Haenszel Test"},{"pos":18998460,"logp":1.23,"test":"Mantel-Haenszel Test"},{"pos":18942860,"logp":1.09,"test":"Mantel-Haenszel Test"},{"pos":18944400,"logp":0.97,"test":"Mantel-Haenszel Test"},{"pos":18940540,"logp":0.90,"test":"Mantel-Haenszel Test"},{"pos":18946720,"logp":0.79,"test":"Mantel-Haenszel Test"},{"pos":18940540,"logp":0.76,"test":"Mantel-Haenszel Test"},{"pos":18984560,"logp":0.64,"test":"Mantel-Haenszel Test"},{"pos":18984560,"logp":0.56,"test":"Mantel-Haenszel Test"},{"pos":18961390,"logp":0.60,"test":"Mantel-Haenszel Test"},{"pos":18995370,"logp":0.50,"test":"Mantel-Haenszel Test"},{"pos":19000770,"logp":0.46,"test":"Mantel-Haenszel Test"},{"pos":19012350,"logp":0.56,"test":"Mantel-Haenszel Test"},{"pos":19006950,"logp":0.43,"test":"Mantel-Haenszel Test"},{"pos":18950580,"logp":0.40,"test":"Mantel-Haenszel Test"},{"pos":19012350,"logp":0.34,"test":"Mantel-Haenszel Test"},{"pos":19023170,"logp":0.37,"test":"Mantel-Haenszel Test"},{"pos":19005400,"logp":0.19,"test":"Mantel-Haenszel Test"},{"pos":19017760,"logp":0.17,"test":"Mantel-Haenszel Test"},{"pos":18979920,"logp":0.04,"test":"Mantel-Haenszel Test"},{"pos":19002320,"logp":0.01,"test":"Mantel-Haenszel Test"},{"pos":19009270,"logp":0.04,"test":"Mantel-Haenszel Test"},{"pos":19023170,"logp":0.02,"test":"Mantel-Haenszel Test"}
]},
"layer":[
{"data":{"name":"genes"},"mark":{"type":"rect","strokeWidth":0},
"encoding":{
"x":{"field":"start","type":"quantitative","scale":{"domain":[18166830,19031630],"nice":false,"zero":false},
"axis":{"values":[18200000,18400000,18600000,18800000,19000000],"format":"d","title":"Position (Bp)","labelFontSize":31,"titleFontSize":33,"labelPadding":18,"titlePadding":26}},
"x2":{"field":"end"},
"y":{"field":"lo","type":"quantitative","scale":{"domain":[-0.911,9.391],"nice":false,"zero":false},
"axis":{"values":[0,2,4,6,8],"format":"d","title":"-log10(Pvalue)","labelFontSize":31,"titleFontSize":33,"labelAngle":-90,"labelAlign":"center","labelBaseline":"bottom","labelPadding":12,"titlePadding":24}},
"y2":{"field":"hi"},
"fill":{"field":"test","type":"nominal","scale":{"domain":["Cross Test","P Test","PC Test","Mantel-Haenszel Test","Known Genes"],"range":["#E3262B","#2E3192","#00A651","#BEBEBE","#F7AE27"]}},
"stroke":{"field":"test","type":"nominal","scale":{"domain":["Cross Test","P Test","PC Test","Mantel-Haenszel Test","Known Genes"],"range":["#A11C20","#2A2D85","#078A45","#1A1A1A","#F7AE27"]}}
}},
{"data":{"name":"genes"},"mark":{"type":"text","align":"left","baseline":"top","fontSize":17,"dy":1,"color":"#1a1a1a","font":"Liberation Sans"},
"encoding":{"x":{"field":"start","type":"quantitative"},"y":{"field":"lo","type":"quantitative"},"text":{"field":"gene"}}},
{"data":{"name":"snps"},"mark":{"type":"square","size":72,"strokeWidth":1.5,"opacity":1},
"encoding":{
"x":{"field":"pos","type":"quantitative"},
"y":{"field":"logp","type":"quantitative"},
"fill":{"field":"test","type":"nominal","legend":{"title":null,"orient":"none","legendX":238,"legendY":330,"strokeColor":"#111111","padding":20,"labelFontSize":32,"labelFont":"Liberation Sans","labelColor":"#1a1a1a","symbolType":"square","symbolSize":121,"symbolStrokeWidth":1.5,"symbolOffset":-10,"rowPadding":4,"labelOffset":8,"labelLimit":600,"fillColor":"white"}},
"stroke":{"field":"test","type":"nominal","legend":{"title":null,"orient":"none","legendX":238,"legendY":330,"strokeColor":"#111111","padding":20,"labelFontSize":32,"labelFont":"Liberation Sans","labelColor":"#1a1a1a","symbolType":"square","symbolSize":121,"symbolStrokeWidth":1.5,"symbolOffset":-10,"rowPadding":4,"labelOffset":8,"labelLimit":600,"fillColor":"white"}}
}}
]
}
